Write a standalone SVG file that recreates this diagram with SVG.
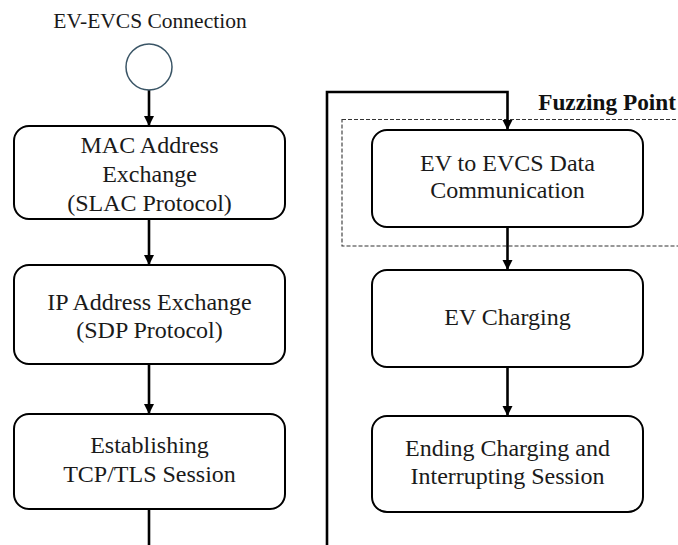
<svg xmlns="http://www.w3.org/2000/svg" width="678" height="545" viewBox="0 0 678 545">
<defs>
<marker id="arr" markerUnits="userSpaceOnUse" markerWidth="12" markerHeight="12" viewBox="0 0 12 12" refX="10" refY="6" orient="auto">
<path d="M0,1 L10,6 L0,11 Z" fill="#000"/>
</marker>
</defs>
<style>
.box{fill:#fff;stroke:#000;stroke-width:2}
.t{font-family:"Liberation Serif","Times New Roman",serif;font-size:24px;fill:#1a1a1a;text-anchor:middle}
.c{fill:none;stroke:#000;stroke-width:2.6}
</style>
<rect width="678" height="545" fill="#fff"/>
<g id="fuzz-region">
<rect x="342" y="119.5" width="340" height="126.5" fill="none" stroke="#333" stroke-width="1.1" stroke-dasharray="4,2"/>
<text x="676" y="110" font-family="Liberation Serif, Times New Roman, serif" font-size="23.3" font-weight="bold" text-anchor="end" fill="#111">Fuzzing Point</text>
</g>
<g id="connectors">
<line class="c" x1="149" y1="89" x2="149" y2="126" marker-end="url(#arr)"/>
<line class="c" x1="149" y1="219" x2="149" y2="265" marker-end="url(#arr)"/>
<line class="c" x1="149" y1="364" x2="149" y2="414" marker-end="url(#arr)"/>
<line class="c" x1="149" y1="509" x2="149" y2="546"/>
<path class="c" d="M327,546 L327,92 L507.5,92 L507.5,130" stroke-width="3" marker-end="url(#arr)"/>
<line class="c" x1="507.5" y1="227" x2="507.5" y2="270" marker-end="url(#arr)"/>
<line class="c" x1="507.5" y1="367" x2="507.5" y2="416" marker-end="url(#arr)"/>
</g>
<g id="start">
<text x="150" y="28" font-family="Liberation Serif, Times New Roman, serif" font-size="21.5" text-anchor="middle" fill="#1a1a1a">EV-EVCS Connection</text>
<circle cx="149" cy="67" r="23" fill="#fff" stroke="#3a5566" stroke-width="1.5"/>
</g>
<g id="mac">
<rect class="box" x="14" y="126" width="271" height="93" rx="15"/>
<text class="t" x="149.5" y="153">MAC Address</text>
<text class="t" x="149.5" y="182">Exchange</text>
<text class="t" x="149.5" y="211">(SLAC Protocol)</text>
</g>
<g id="ip">
<rect class="box" x="14" y="265" width="271" height="99" rx="15"/>
<text class="t" x="149.5" y="310">IP Address Exchange</text>
<text class="t" x="149.5" y="338">(SDP Protocol)</text>
</g>
<g id="tcp">
<rect class="box" x="14" y="414" width="271" height="95" rx="15"/>
<text class="t" x="149.5" y="453">Establishing</text>
<text class="t" x="149.5" y="481.5">TCP/TLS Session</text>
</g>
<g id="data">
<rect class="box" x="372" y="130" width="271" height="97" rx="15"/>
<text class="t" x="507.5" y="170.5">EV to EVCS Data</text>
<text class="t" x="507.5" y="198">Communication</text>
</g>
<g id="charging">
<rect class="box" x="372" y="270" width="271" height="97" rx="15"/>
<text class="t" x="507.5" y="325">EV Charging</text>
</g>
<g id="ending">
<rect class="box" x="372" y="416" width="271" height="96" rx="15"/>
<text class="t" x="507.5" y="456">Ending Charging and</text>
<text class="t" x="507.5" y="484">Interrupting Session</text>
</g>
</svg>
